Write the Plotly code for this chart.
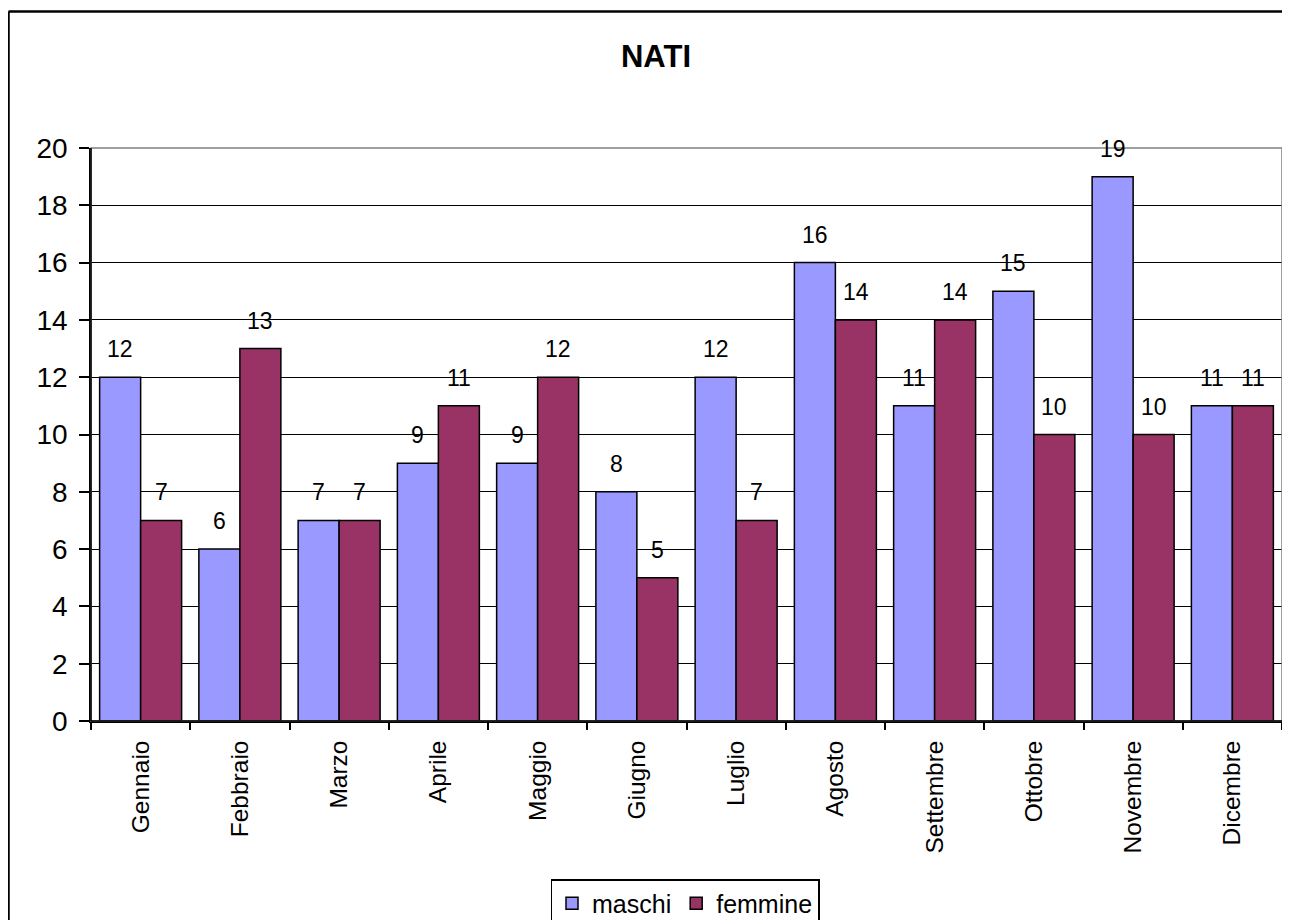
import plotly.graph_objects as go

mesi = ["Gennaio", "Febbraio", "Marzo", "Aprile", "Maggio", "Giugno",
        "Luglio", "Agosto", "Settembre", "Ottobre", "Novembre", "Dicembre"]
maschi = [12, 6, 7, 9, 9, 8, 12, 16, 11, 15, 19, 11]
femmine = [7, 13, 7, 11, 12, 5, 7, 14, 14, 10, 10, 11]
y_ticks = [0, 2, 4, 6, 8, 10, 12, 14, 16, 18, 20]

FONT = "Liberation Sans, Arial, sans-serif"
BARGAP = 0.174

W, H = 1282, 912
L, R, T, B = 83, 8, 140, 199
PW, PH = W - L - R, H - T - B

fig = go.Figure()
fig.add_trace(go.Bar(
    name="maschi", x=mesi, y=maschi,
    marker=dict(color="#9999FF", line=dict(color="black", width=1.5)),
))
fig.add_trace(go.Bar(
    name="femmine", x=mesi, y=femmine,
    marker=dict(color="#993366", line=dict(color="black", width=1.5)),
))

# data labels above bars
half = (1 - BARGAP) / 4
for series, off in ((maschi, -half), (femmine, half)):
    for i, v in enumerate(series):
        fig.add_annotation(x=i + off, y=v, xref="x", yref="y", text=str(v),
                           showarrow=False, yanchor="bottom", yshift=13,
                           font=dict(size=23, family=FONT, color="black"))

fig.update_layout(
    width=W, height=H,
    margin=dict(l=L, r=R, t=T, b=B, autoexpand=False),
    paper_bgcolor="white", plot_bgcolor="white",
    font=dict(family=FONT, color="black", size=24),
    barmode="group", bargap=BARGAP, bargroupgap=0,
    title=dict(text="<b>NATI</b>", x=648 / W, xanchor="center",
               y=1 - 48 / H, yanchor="middle",
               font=dict(size=31, family=FONT, color="black")),
    legend=dict(orientation="h", x=(677 - L) / PW, xanchor="center",
                y=(T + PH - 871) / PH, yanchor="top",
                bordercolor="black", borderwidth=1.5, bgcolor="white",
                font=dict(size=25, family=FONT), itemwidth=30,
                traceorder="normal", tracegroupgap=0),
    showlegend=True,
)
fig.update_yaxes(range=[0, 20], tickvals=y_ticks, showgrid=True, gridcolor="black",
                 gridwidth=1, showline=True, linecolor="black", linewidth=1.5,
                 ticks="outside", ticklen=10, tickcolor="black", tickwidth=1.5,
                 ticklabelstandoff=6, automargin=False,
                 tickfont=dict(size=28, family=FONT), zeroline=False)
fig.update_xaxes(showline=True, linecolor="black", linewidth=1.5,
                 ticks="outside", ticklen=7, tickcolor="black", tickwidth=1.5,
                 tickson="boundaries", ticklabelstandoff=8, automargin=False,
                 tickangle=-90, tickfont=dict(size=24.5, family=FONT), showgrid=False)

# plot area border (grey top/right)
fig.add_shape(type="rect", xref="paper", yref="paper", x0=0, x1=1, y0=0, y1=1,
              line=dict(color="#808080", width=1.5), layer="above")
fig.add_shape(type="line", xref="paper", yref="paper", x0=0, x1=0, y0=0, y1=1,
              line=dict(color="black", width=1.5), layer="above")
fig.add_shape(type="line", xref="paper", yref="paper", x0=0, x1=1, y0=0, y1=0,
              line=dict(color="black", width=1.5), layer="above")
# outer chart border (left/top)
bx = (0.5 - L) / PW
by = (T + PH - 3.5) / PH
fig.add_shape(type="line", xref="paper", yref="paper",
              x0=bx, x1=bx, y0=-B / PH - 0.05, y1=by,
              line=dict(color="black", width=2.5))
fig.add_shape(type="line", xref="paper", yref="paper",
              x0=bx, x1=1 + R / PW + 0.02, y0=by, y1=by,
              line=dict(color="black", width=2.5))

fig.write_html("out.html")
